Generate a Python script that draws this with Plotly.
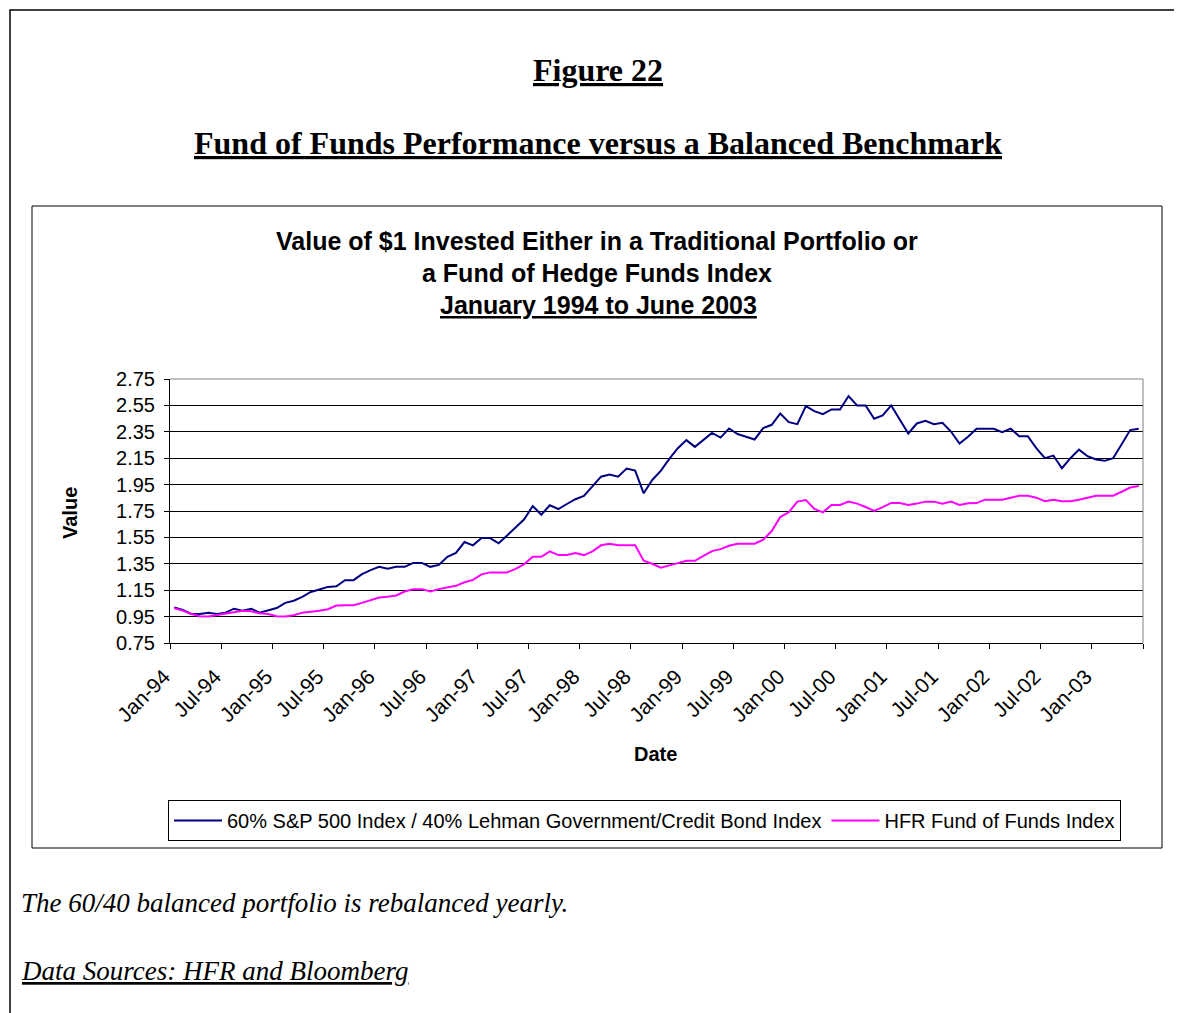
import pandas as pd
import plotly.graph_objects as go

# ---- data ----
months = [d.strftime("%b-%y") for d in pd.date_range("1994-01-01", periods=114, freq="MS")]

balanced_60_40 = [
    1.02, 1.00, 0.97, 0.97, 0.98, 0.97, 0.98, 1.01, 0.995, 1.01,
    0.98, 1.00, 1.015, 1.054, 1.07, 1.10, 1.137, 1.155, 1.175, 1.18,
    1.226, 1.226, 1.272, 1.302, 1.327, 1.312, 1.327, 1.327, 1.357, 1.357,
    1.327, 1.342, 1.403, 1.433, 1.515, 1.49, 1.545, 1.545, 1.505, 1.565,
    1.626, 1.687, 1.788, 1.722, 1.793, 1.765, 1.803, 1.839, 1.864, 1.94,
    2.01, 2.026, 2.01, 2.071, 2.056, 1.884, 1.985, 2.054, 2.145, 2.226,
    2.287, 2.236, 2.292, 2.342, 2.306, 2.375, 2.333, 2.314, 2.292, 2.378,
    2.403, 2.489, 2.423, 2.408, 2.545, 2.507, 2.484, 2.519, 2.519, 2.621,
    2.55, 2.55, 2.449, 2.474, 2.55, 2.443, 2.337, 2.413, 2.433, 2.408,
    2.418, 2.352, 2.261, 2.312, 2.373, 2.373, 2.373, 2.348, 2.373, 2.317,
    2.317, 2.226, 2.15, 2.17, 2.074, 2.15, 2.215, 2.165, 2.14, 2.13,
    2.15, 2.256, 2.363, 2.373,
]

hfr_fof = [
    1.013, 0.995, 0.97, 0.953, 0.95, 0.96, 0.97, 0.98, 0.995, 0.99,
    0.975, 0.97, 0.953, 0.95, 0.96, 0.98, 0.985, 0.995, 1.006, 1.034,
    1.036, 1.036, 1.054, 1.074, 1.095, 1.10, 1.11, 1.14, 1.158, 1.158,
    1.14, 1.158, 1.17, 1.183, 1.21, 1.228, 1.27, 1.285, 1.285, 1.285,
    1.312, 1.348, 1.403, 1.403, 1.444, 1.416, 1.416, 1.431, 1.416, 1.444,
    1.49, 1.501, 1.49, 1.49, 1.49, 1.373, 1.35, 1.32, 1.335, 1.355,
    1.373, 1.373, 1.41, 1.446, 1.461, 1.487, 1.502, 1.502, 1.502, 1.532,
    1.598, 1.704, 1.74, 1.821, 1.833, 1.765, 1.74, 1.796, 1.796, 1.821,
    1.806, 1.78, 1.75, 1.78, 1.811, 1.811, 1.796, 1.806, 1.821, 1.821,
    1.806, 1.821, 1.796, 1.808, 1.81, 1.836, 1.836, 1.836, 1.851, 1.866,
    1.866, 1.851, 1.824, 1.836, 1.824, 1.824, 1.836, 1.851, 1.866, 1.866,
    1.866, 1.896, 1.928, 1.94,
]

series_names = [
    "60% S&P 500 Index / 40% Lehman Government/Credit Bond Index",
    "HFR Fund of Funds Index",
]
y_ticks = [0.75, 0.95, 1.15, 1.35, 1.55, 1.75, 1.95, 2.15, 2.35, 2.55, 2.75]

# ---- geometry (page pixels; the figure sits 8px in from the page corner) ----
OFF = 8
W, H = 1182 - OFF, 1013 - OFF
PL, PR, PT, PB = 170, 1143, 379, 643  # plot area in page pixels


def px(x):
    return (x - PL) / (PR - PL)


def py(y):
    return (PB - y) / (PB - PT)


idx = list(range(len(months)))
tickvals = [i - 0.5 for i in range(0, len(months) + 1, 6)]
ticktext = [months[i] if i < len(months) else "" for i in range(0, len(months) + 1, 6)]

fig = go.Figure()
fig.add_trace(go.Scatter(x=idx, y=balanced_60_40, mode="lines", name=series_names[0],
                         line=dict(color="#000080", width=2)))
fig.add_trace(go.Scatter(x=idx, y=hfr_fof, mode="lines", name=series_names[1],
                         line=dict(color="#FF00FF", width=2)))

serif = "Liberation Serif, Times New Roman, serif"
sans = "Liberation Sans, Arial, sans-serif"

fig.update_layout(
    width=W, height=H,
    margin=dict(l=PL - OFF, r=W - (PR - OFF), t=PT - OFF, b=H - (PB - OFF), pad=0),
    paper_bgcolor="white", plot_bgcolor="white",
    font=dict(family=sans, color="black", size=20),
    showlegend=True,
    legend=dict(
        orientation="h", x=px(168), y=py(800), xanchor="left", yanchor="top",
        bordercolor="black", borderwidth=1, font=dict(family=sans, size=20),
        itemwidth=48, bgcolor="white", tracegroupgap=0,
    ),
    xaxis=dict(
        range=[-0.5, len(months) - 0.5], tickmode="array", tickvals=tickvals,
        ticktext=ticktext, tickangle=-45, ticks="outside", ticklen=5,
        tickcolor="black", showline=True, linecolor="black", linewidth=1,
        showgrid=False, zeroline=False, tickfont=dict(family=sans, size=21),
        ticklabelstandoff=7, ticklabelshift=-6,
    ),
    yaxis=dict(
        range=[0.75, 2.75], tickmode="array", tickvals=y_ticks,
        ticktext=[f"{v:.2f}" for v in y_ticks], ticks="outside", ticklen=5,
        tickcolor="black", showline=True, linecolor="black", linewidth=1,
        showgrid=True, gridcolor="black", gridwidth=1, zeroline=False,
        tickfont=dict(family=sans, size=20), ticklabelstandoff=5,
    ),
)

shapes = [
    # outer page border
    dict(type="rect", xref="paper", yref="paper", x0=px(10), x1=px(1181), y0=py(1040), y1=py(10),
         line=dict(color="black", width=1.5), layer="below"),
    # chart box
    dict(type="rect", xref="paper", yref="paper", x0=px(32), x1=px(1162), y0=py(848), y1=py(206),
         line=dict(color="black", width=1), layer="below"),
    # plot area top/right border
    dict(type="line", xref="paper", yref="paper", x0=0, x1=1, y0=1, y1=1,
         line=dict(color="#808080", width=1)),
    dict(type="line", xref="paper", yref="paper", x0=1, x1=1, y0=0, y1=1,
         line=dict(color="#808080", width=1)),
]
fig.update_layout(shapes=shapes)

ann = [
    dict(text="<b><u>Figure 22</u></b>", x=px(598), y=py(70), font=dict(family=serif, size=32)),
    dict(text="<b><u>Fund of Funds Performance versus a Balanced Benchmark</u></b>", x=px(598), y=py(143),
         font=dict(family=serif, size=32)),
    dict(text="<b>Value of $1 Invested Either in a Traditional Portfolio or</b>", x=px(597), y=py(241),
         font=dict(family=sans, size=25)),
    dict(text="<b>a Fund of Hedge Funds Index</b>", x=px(597), y=py(273), font=dict(family=sans, size=25)),
    dict(text="<b><u>January 1994 to June 2003</u></b>", x=px(598), y=py(305), font=dict(family=sans, size=25)),
    dict(text="<b>Value</b>", x=px(70), y=py(513), textangle=-90, font=dict(family=sans, size=20)),
    dict(text="<b>Date</b>", x=px(655), y=py(754), font=dict(family=sans, size=20)),
    dict(text="<i>The 60/40 balanced portfolio is rebalanced yearly.</i>", x=px(19), y=py(903),
         xanchor="left", font=dict(family=serif, size=27)),
    dict(text="<i><u>Data Sources: HFR and Bloomberg</u></i>", x=px(19), y=py(971),
         xanchor="left", font=dict(family=serif, size=27)),
]
for a in ann:
    a.setdefault("xanchor", "center")
    a.update(xref="paper", yref="paper", yanchor="middle", showarrow=False)
fig.update_layout(annotations=ann)

fig.write_html("out.html")
